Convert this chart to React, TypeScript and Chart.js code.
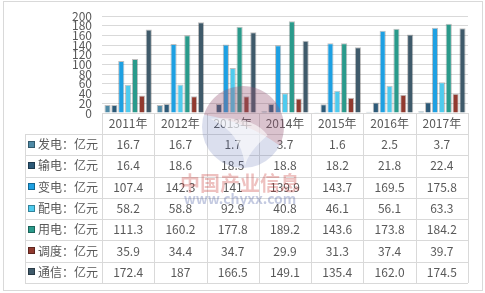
import React, { useEffect, useRef } from "react";
import { Chart, registerables } from "chart.js";

Chart.register(...registerables);

const categories = ["2011年", "2012年", "2013年", "2014年", "2015年", "2016年", "2017年"];
const seriesNames = ["发电", "输电", "变电", "配电", "用电", "调度", "通信"];
const unit = "亿元";
const fadian = ["16.7", "16.7", "1.7", "3.7", "1.6", "2.5", "3.7"];
const shudian = ["16.4", "18.6", "18.5", "18.8", "18.2", "21.8", "22.4"];
const biandian = ["107.4", "142.3", "141", "139.9", "143.7", "169.5", "175.8"];
const peidian = ["58.2", "58.8", "92.9", "40.8", "46.1", "56.1", "63.3"];
const yongdian = ["111.3", "160.2", "177.8", "189.2", "143.6", "173.8", "184.2"];
const diaodu = ["35.9", "34.4", "34.7", "29.9", "31.3", "37.4", "39.7"];
const tongxin = ["172.4", "187", "166.5", "149.1", "135.4", "162.0", "174.5"];
const seriesValues = [fadian, shudian, biandian, peidian, yongdian, diaodu, tongxin];
const colors = ["#4f8aa6", "#2d5a78", "#1ea0e2", "#4fcbee", "#2a9a8b", "#913a2f", "#3f5a6a"];
const yTicks = { min: 0, max: 200, step: 20 };

const FONT = '"Noto Sans CJK SC", "Noto Sans", sans-serif';
const TEXT = "#595959";
const LINE = "#d9d9d9";

const tablePlugin = {
  id: "dataTable",
  afterDatasetsDraw(chart: any) {
    const ctx = chart.ctx;
    const area = chart.chartArea;
    const n = categories.length;
    const colW = (area.right - area.left) / n;
    const tableLeft = 25;
    const headerTop = area.bottom;
    const rowTop = 134;
    const tableBottom = 283;
    const rows = seriesNames.length;
    const rowH = (tableBottom - rowTop) / rows;
    ctx.save();
    ctx.strokeStyle = LINE;
    ctx.lineWidth = 1;
    ctx.beginPath();
    for (let i = 0; i <= n; i++) {
      const x = Math.round(area.left + i * colW) + 0.5;
      ctx.moveTo(x, headerTop);
      ctx.lineTo(x, tableBottom);
    }
    ctx.moveTo(tableLeft + 0.5, rowTop);
    ctx.lineTo(tableLeft + 0.5, tableBottom);
    for (let r = 0; r <= rows; r++) {
      const y = Math.round(rowTop + r * rowH) + 0.5;
      ctx.moveTo(tableLeft, y);
      ctx.lineTo(area.right, y);
    }
    ctx.stroke();
    // outer frame
    ctx.strokeRect(3.5, 1.5, 479, 289);

    ctx.font = `12px ${FONT}`;
    ctx.textBaseline = "middle";
    for (let r = 0; r < rows; r++) {
      const cy = rowTop + r * rowH + rowH / 2;
      ctx.fillStyle = colors[r];
      ctx.fillRect(28, Math.round(cy) - 4, 7, 7);
      ctx.strokeStyle = "rgba(0,0,0,0.35)";
      ctx.strokeRect(28.5, Math.round(cy) - 3.5, 6, 6);
      ctx.fillStyle = TEXT;
      ctx.textAlign = "left";
      ctx.fillText(`${seriesNames[r]}：${unit}`, 38, cy);
      ctx.textAlign = "center";
      for (let c = 0; c < n; c++) {
        const cx = chart.scales.x.getPixelForValue(c);
        ctx.fillText(seriesValues[r][c], cx, cy);
      }
    }
    ctx.restore();
  },
  afterDraw(chart: any) {
    const ctx = chart.ctx;
    ctx.save();
    const cx = 243, cy = 127, r = 41;
    ctx.globalAlpha = 0.2;
    ctx.fillStyle = "#4a5fa8";
    ctx.beginPath();
    ctx.arc(cx, cy, r, 0, Math.PI * 2);
    ctx.fill();
    ctx.fillStyle = "#d0504a";
    ctx.beginPath();
    ctx.arc(cx, cy, r, Math.PI * 1.1, Math.PI * 2.15);
    ctx.quadraticCurveTo(cx + 5, cy - 5, cx - r * 0.95, cy - r * 0.3);
    ctx.fill();
    ctx.globalAlpha = 0.6;
    ctx.fillStyle = "#ffffff";
    ctx.beginPath();
    ctx.moveTo(cx - r * 0.8, cy - r * 0.2);
    ctx.quadraticCurveTo(cx + 10, cy - 12, cx + r * 0.6, cy + r * 0.2);
    ctx.quadraticCurveTo(cx + 5, cy + 25, cx + 2, cy + r * 0.95);
    ctx.quadraticCurveTo(cx - 2, cy + 5, cx - r * 0.8, cy - r * 0.2);
    ctx.fill();
    ctx.globalAlpha = 0.3;
    ctx.font = `bold 20px ${FONT}`;
    ctx.textAlign = "center";
    ctx.textBaseline = "middle";
    ctx.fillStyle = "#c8332f";
    ctx.fillText("中国产业信息", 240, 183);
    ctx.font = `bold 14px ${FONT}`;
    ctx.fillStyle = "#3a4f9a";
    ctx.fillText("www.chyxx.com", 240, 199);
    ctx.restore();
  },
};

export default function App() {
  const ref = useRef<HTMLCanvasElement>(null);
  useEffect(() => {
    if (!ref.current) return;
    const chart = new Chart(ref.current, {
      type: "bar",
      data: {
        labels: categories,
        datasets: seriesNames.map((name, i) => ({
          label: name,
          data: seriesValues[i].map((v) => Number(v)),
          backgroundColor: colors[i],
          borderColor: "rgba(0,0,0,0.25)",
          borderWidth: 1,
          barPercentage: 0.9,
          categoryPercentage: 0.92,
        })),
      },
      options: {
        responsive: false,
        animation: false,
        layout: { padding: { left: 5, right: 17, top: 16, bottom: 0 } },
        plugins: { legend: { display: false }, tooltip: { enabled: false } },
        scales: {
          x: {
            grid: { display: false, drawTicks: false },
            border: { display: true, color: LINE },
            ticks: {
              color: TEXT,
              font: { family: FONT, size: 12 },
              padding: 3,
              maxRotation: 0,
              autoSkip: false,
            },
            afterFit: (s: any) => {
              s.height = 180;
            },
          },
          y: {
            min: yTicks.min,
            max: yTicks.max,
            grid: { color: LINE, drawTicks: false },
            border: { display: false },
            ticks: {
              stepSize: yTicks.step,
              color: TEXT,
              font: { family: FONT, size: 12, lineHeight: 1 },
              padding: 10,
              autoSkip: false,
            },
            afterFit: (s: any) => {
              s.width = 97;
            },
          },
        },
      },
      plugins: [tablePlugin],
    });
    return () => chart.destroy();
  }, []);
  return (
    <div style={{ position: "absolute", left: 0, top: 0, width: 485, height: 293, background: "#fff" }}>
      <canvas ref={ref} width={485} height={293} />
    </div>
  );
}
